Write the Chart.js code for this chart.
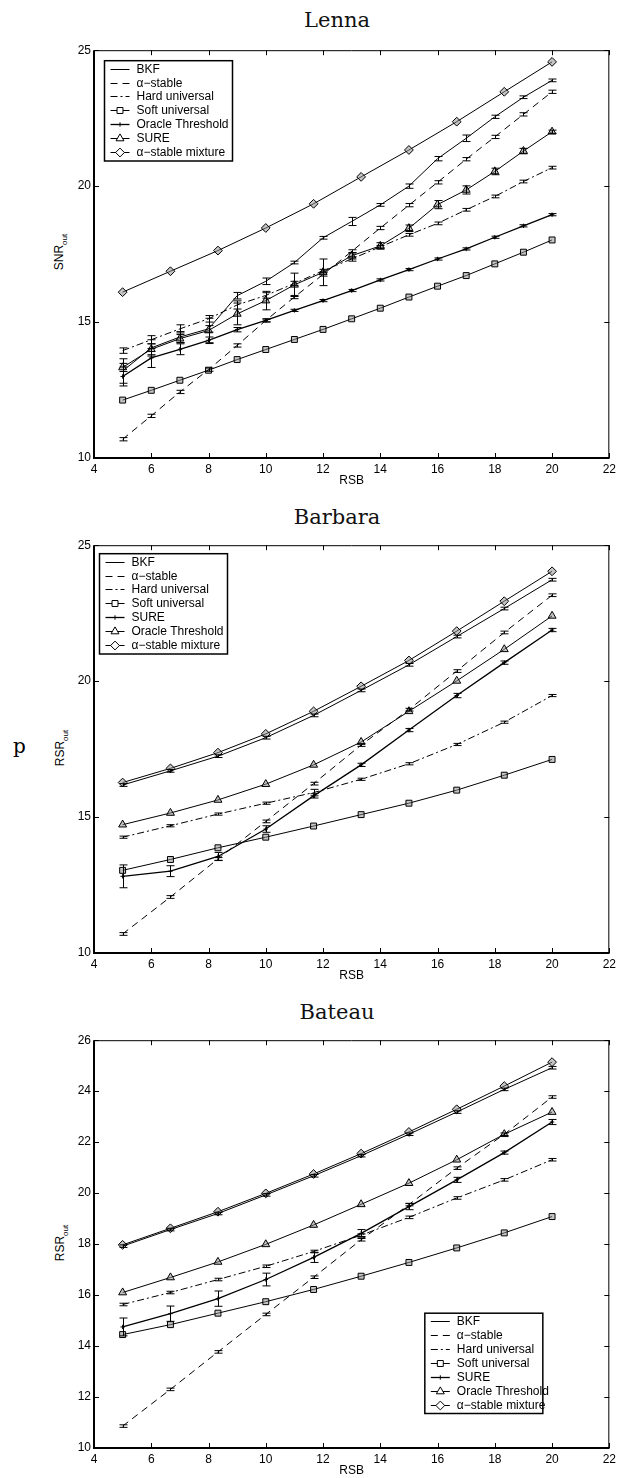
<!DOCTYPE html>
<html>
<head>
<meta charset="utf-8">
<script src="https://cdn.jsdelivr.net/npm/chart.js@4.4.0/dist/chart.umd.min.js"></script>
<style>
  html, body { margin: 0; padding: 0; background: #fff; }
  body { width: 620px; height: 1478px; position: relative; overflow: hidden; font-family: "Liberation Sans", Arial, sans-serif; color: #000; }
  .panel { position: absolute; left: 0; width: 620px; height: 450px; }
  .title { position: absolute; left: 337px; transform: translateX(-50%); font-family: "DejaVu Serif", serif; font-size: 21px; line-height: 21px; color: #111; white-space: nowrap; }
  .ylab { position: absolute; font-size: 12px; line-height: 14px; transform: translate(-50%, -50%) rotate(-90deg); white-space: nowrap; }
  .ylab sub { font-size: 8px; }
  .stray { position: absolute; left: 13px; top: 734px; font-family: "DejaVu Serif", serif; font-size: 20px; }
</style>
</head>
<body>
<div class="title" style="top:10px">Lenna</div>
<div class="title" style="top:507px">Barbara</div>
<div class="title" style="top:1002px">Bateau</div>
<div class="ylab" style="left:62px; top:252px">SNR<sub>out</sub></div>
<div class="ylab" style="left:63px; top:748px">RSR<sub>out</sub></div>
<div class="ylab" style="left:63px; top:1243px">RSR<sub>out</sub></div>
<div class="stray">p</div>

<div class="panel" style="top:40px"><canvas id="lenna" width="620" height="450"></canvas></div>
<div class="panel" style="top:535px"><canvas id="barbara" width="620" height="450"></canvas></div>
<div class="panel" style="top:1030px"><canvas id="bateau" width="620" height="450"></canvas></div>

<script>
// input SNR (RSB) values
const rsbInt = [5, 6, 7, 8, 9, 10, 11, 12, 13, 14, 15, 16, 17, 18, 19, 20];
const rsbThird = [5, 6.67, 8.33, 10, 11.67, 13.33, 15, 16.67, 18.33, 20];

const namesLenna = ['BKF', 'α−stable', 'Hard universal', 'Soft universal', 'Oracle Threshold', 'SURE', 'α−stable mixture'];
const namesOther = ['BKF', 'α−stable', 'Hard universal', 'Soft universal', 'SURE', 'Oracle Threshold', 'α−stable mixture'];

// Lenna
const lennaBkf = [13.2, 14.05, 14.45, 14.75, 15.97, 16.5, 17.19, 18.1, 18.7, 19.31, 20.0, 21.01, 21.76, 22.55, 23.27, 23.89];
const lennaBkfErr = [0.45, 0.3, 0.2, 0.12, 0.12, 0.12, 0.05, 0.05, 0.15, 0.05, 0.08, 0.08, 0.12, 0.06, 0.05, 0.05];
const lennaStable = [10.69, 11.55, 12.43, 13.25, 14.14, 15.06, 15.92, 16.75, 17.6, 18.46, 19.3, 20.14, 20.99, 21.81, 22.64, 23.47];
const lennaStableErr = [0.06, 0.06, 0.06, 0.06, 0.06, 0.06, 0.06, 0.06, 0.06, 0.06, 0.06, 0.06, 0.06, 0.06, 0.06, 0.06];
const lennaHard = [13.95, 14.35, 14.75, 15.12, 15.63, 15.98, 16.42, 16.89, 17.32, 17.77, 18.21, 18.63, 19.13, 19.62, 20.17, 20.68];
const lennaHardErr = [0.1, 0.15, 0.15, 0.12, 0.15, 0.1, 0.08, 0.05, 0.08, 0.05, 0.05, 0.05, 0.05, 0.05, 0.05, 0.05];
const lennaSoft = [12.13, 12.49, 12.86, 13.23, 13.62, 13.99, 14.36, 14.73, 15.12, 15.51, 15.92, 16.32, 16.71, 17.14, 17.57, 18.02];
const lennaOracle = [13.0, 13.68, 14.0, 14.33, 14.72, 15.06, 15.43, 15.79, 16.16, 16.55, 16.93, 17.32, 17.69, 18.12, 18.54, 18.95];
const lennaOracleErr = [0.35, 0.35, 0.2, 0.12, 0.08, 0.05, 0.04, 0.04, 0.04, 0.04, 0.04, 0.04, 0.04, 0.04, 0.04, 0.04];
const lennaSure = [13.33, 14.0, 14.39, 14.69, 15.3, 15.79, 16.37, 16.83, 17.44, 17.8, 18.45, 19.32, 19.86, 20.54, 21.29, 22.0];
const lennaSureErr = [0.15, 0.2, 0.15, 0.45, 0.4, 0.34, 0.43, 0.49, 0.12, 0.12, 0.12, 0.15, 0.15, 0.12, 0.1, 0.06];
const lennaMixture = [16.1, 16.87, 17.63, 18.46, 19.35, 20.34, 21.33, 22.37, 23.47, 24.57];

// Barbara
const barbaraBkf = [16.18, 16.7, 17.24, 17.92, 18.74, 19.66, 20.6, 21.64, 22.67, 23.73];
const barbaraBkfErr = [0.05, 0.05, 0.05, 0.05, 0.05, 0.05, 0.05, 0.05, 0.05, 0.05];
const barbaraStable = [10.7, 12.06, 13.46, 14.84, 16.23, 17.65, 18.95, 20.37, 21.79, 23.16];
const barbaraStableErr = [0.05, 0.05, 0.05, 0.05, 0.05, 0.05, 0.05, 0.05, 0.05, 0.05];
const barbaraHard = [14.26, 14.68, 15.11, 15.51, 15.9, 16.39, 16.96, 17.67, 18.49, 19.47];
const barbaraHardErr = [0.04, 0.04, 0.04, 0.04, 0.12, 0.04, 0.04, 0.04, 0.04, 0.04];
const barbaraSoft = [13.04, 13.44, 13.87, 14.26, 14.67, 15.09, 15.51, 15.99, 16.54, 17.12];
const barbaraSure = [12.82, 13.01, 13.55, 14.56, 15.78, 16.92, 18.2, 19.47, 20.68, 21.88];
const barbaraSureErr = [0.42, 0.2, 0.15, 0.12, 0.08, 0.06, 0.06, 0.08, 0.06, 0.06];
const barbaraOracle = [14.72, 15.15, 15.63, 16.21, 16.92, 17.76, 18.89, 20.01, 21.17, 22.4];
const barbaraMixture = [16.27, 16.79, 17.37, 18.06, 18.89, 19.81, 20.76, 21.84, 22.94, 24.04];

// Bateau
const bateauBkf = [17.92, 18.57, 19.2, 19.93, 20.68, 21.47, 22.31, 23.18, 24.07, 24.92];
const bateauBkfErr = [0.05, 0.05, 0.05, 0.05, 0.05, 0.05, 0.05, 0.05, 0.05, 0.05];
const bateauStable = [10.86, 12.3, 13.77, 15.24, 16.7, 18.17, 19.55, 20.98, 22.31, 23.77];
const bateauStableErr = [0.05, 0.05, 0.05, 0.05, 0.05, 0.05, 0.05, 0.05, 0.05, 0.05];
const bateauHard = [15.63, 16.1, 16.61, 17.13, 17.71, 18.35, 19.05, 19.81, 20.52, 21.31];
const bateauHardErr = [0.05, 0.05, 0.05, 0.05, 0.05, 0.05, 0.05, 0.05, 0.05, 0.05];
const bateauSoft = [14.45, 14.84, 15.29, 15.74, 16.22, 16.74, 17.28, 17.85, 18.44, 19.08];
const bateauSure = [14.75, 15.27, 15.86, 16.61, 17.48, 18.42, 19.47, 20.52, 21.59, 22.79];
const bateauSureErr = [0.35, 0.3, 0.3, 0.25, 0.2, 0.15, 0.12, 0.1, 0.06, 0.1];
const bateauOracle = [16.1, 16.69, 17.3, 17.99, 18.75, 19.56, 20.39, 21.31, 22.31, 23.18];
const bateauMixture = [17.97, 18.62, 19.27, 19.99, 20.75, 21.55, 22.4, 23.29, 24.2, 25.14];

// line / marker style for each legend slot
const STYLES = [
    { dash: [] },
    { dash: [7, 5] },
    { dash: [7, 3, 2, 3] },
    { dash: [], point: 'rect', radius: 4.2 },
    { dash: [], point: 'cross', radius: 2.2, width: 1.3 },
    { dash: [], point: 'triangle', radius: 4.6 },
    { dash: [], point: 'rectRot', radius: 4.4 }
];

const FONT = '"Liberation Sans", Arial, sans-serif';

function makeDatasets(names, xsList, ysList, errList) {
    return ysList.map((vals, k) => {
        const st = STYLES[k];
        return {
            label: names[k],
            data: vals.map((v, i) => ({ x: xsList[k][i], y: v })),
            errors: errList[k],
            borderColor: '#000',
            borderWidth: st.width || 1,
            borderDash: st.dash,
            pointStyle: st.point || 'circle',
            pointRadius: st.point ? st.radius : 0,
            pointHoverRadius: st.point ? st.radius : 0,
            pointBorderColor: '#000',
            pointBackgroundColor: 'rgba(140,140,140,0.5)',
            pointBorderWidth: 1,
            tension: 0,
            fill: false
        };
    });
}

const errorBarPlugin = {
    id: 'errorBars',
    afterDatasetsDraw(chart) {
        const ctx = chart.ctx;
        const xs = chart.scales.x, ys = chart.scales.y;
        ctx.save();
        ctx.strokeStyle = '#000';
        ctx.lineWidth = 1;
        chart.data.datasets.forEach(ds => {
            if (!ds.errors) return;
            ds.data.forEach((p, i) => {
                const e = ds.errors[i];
                if (!e) return;
                const px = Math.round(xs.getPixelForValue(p.x)) + 0.5;
                const top = ys.getPixelForValue(p.y + e);
                const bot = ys.getPixelForValue(p.y - e);
                ctx.beginPath();
                ctx.moveTo(px, top); ctx.lineTo(px, bot);
                ctx.moveTo(px - 4, top); ctx.lineTo(px + 4, top);
                ctx.moveTo(px - 4, bot); ctx.lineTo(px + 4, bot);
                ctx.stroke();
            });
        });
        ctx.restore();
    }
};

// box around the plot with inward tick marks on all four sides
const framePlugin = {
    id: 'frame',
    afterDraw(chart) {
        const { ctx, chartArea: a, scales } = chart;
        ctx.save();
        ctx.strokeStyle = '#000';
        ctx.lineWidth = 1;
        ctx.beginPath();
        scales.x.ticks.forEach(t => {
            const px = Math.round(scales.x.getPixelForValue(t.value)) + 0.5;
            ctx.moveTo(px, a.bottom); ctx.lineTo(px, a.bottom - 5);
            ctx.moveTo(px, a.top); ctx.lineTo(px, a.top + 5);
        });
        scales.y.ticks.forEach(t => {
            const py = Math.round(scales.y.getPixelForValue(t.value)) + 0.5;
            ctx.moveTo(a.left, py); ctx.lineTo(a.left + 5, py);
            ctx.moveTo(a.right, py); ctx.lineTo(a.right - 5, py);
        });
        ctx.stroke();
        ctx.beginPath();
        ctx.moveTo(a.left, a.top + 0.5); ctx.lineTo(a.right, a.top + 0.5);
        ctx.moveTo(a.right - 0.5, a.top); ctx.lineTo(a.right - 0.5, a.bottom);
        ctx.stroke();
        ctx.lineWidth = 2;
        ctx.beginPath();
        ctx.moveTo(a.left, a.top); ctx.lineTo(a.left, a.bottom);
        ctx.lineTo(a.right, a.bottom);
        ctx.stroke();
        ctx.restore();
    }
};

function drawMarker(ctx, style, x, y, r) {
    ctx.beginPath();
    if (style === 'rect') {
        const s = r * Math.SQRT1_2;
        ctx.rect(x - s, y - s, 2 * s, 2 * s);
    } else if (style === 'triangle') {
        ctx.moveTo(x, y - r);
        ctx.lineTo(x + r * 0.866, y + r * 0.5);
        ctx.lineTo(x - r * 0.866, y + r * 0.5);
        ctx.closePath();
    } else if (style === 'rectRot') {
        ctx.moveTo(x, y - r); ctx.lineTo(x + r, y);
        ctx.lineTo(x, y + r); ctx.lineTo(x - r, y);
        ctx.closePath();
    } else if (style === 'cross') {
        ctx.moveTo(x - r, y); ctx.lineTo(x + r, y);
        ctx.moveTo(x, y - r); ctx.lineTo(x, y + r);
        ctx.stroke();
        return;
    }
    ctx.fill();
    ctx.stroke();
}

const legendPlugin = {
    id: 'boxLegend',
    afterDraw(chart, args, opts) {
        const { ctx, chartArea: a } = chart;
        const rows = chart.data.datasets;
        const h = rows.length * opts.rowHeight + 3;
        const left = opts.align === 'right' ? a.right - opts.offsetX - opts.width : a.left + opts.offsetX;
        const top = opts.align === 'right' ? a.bottom - opts.offsetY - h : a.top + opts.offsetY;
        ctx.save();
        ctx.fillStyle = '#fff';
        ctx.fillRect(left, top, opts.width, h);
        ctx.strokeStyle = '#000';
        ctx.lineWidth = 1.5;
        ctx.strokeRect(left + 0.5, top + 0.5, opts.width, h);
        ctx.font = '12px ' + FONT;
        ctx.textBaseline = 'middle';
        rows.forEach((ds, i) => {
            const y = Math.round(top + 1.5 + opts.rowHeight * (i + 0.5)) + 0.5;
            const x0 = left + 6.5, x1 = left + 25.5;
            ctx.strokeStyle = '#000';
            ctx.lineWidth = ds.borderWidth;
            ctx.setLineDash(ds.borderDash || []);
            ctx.beginPath(); ctx.moveTo(x0, y); ctx.lineTo(x1, y); ctx.stroke();
            ctx.setLineDash([]);
            ctx.lineWidth = 1;
            if (ds.pointRadius > 0) {
                ctx.fillStyle = '#fff';
                drawMarker(ctx, ds.pointStyle, (x0 + x1) / 2, y, ds.pointRadius);
            }
            ctx.fillStyle = '#000';
            ctx.fillText(ds.label, left + 32.5, y + 0.5);
        });
        ctx.restore();
    }
};

function buildChart(id, datasets, yMin, yMax, yStep, legendOpts) {
    const ctx = document.getElementById(id).getContext('2d');
    return new Chart(ctx, {
        type: 'line',
        data: { datasets },
        plugins: [errorBarPlugin, framePlugin, legendPlugin],
        options: {
            responsive: false,
            animation: false,
            layout: { padding: { top: 9, right: 7, left: 0, bottom: 0 } },
            plugins: {
                legend: { display: false },
                tooltip: { enabled: false },
                boxLegend: legendOpts
            },
            scales: {
                x: {
                    type: 'linear', min: 4, max: 22,
                    ticks: { stepSize: 2, padding: 4, color: '#000', font: { family: FONT, size: 12 } },
                    grid: { display: false, drawTicks: false },
                    border: { display: false },
                    title: { display: true, text: 'RSB', color: '#000', font: { family: FONT, size: 12 }, padding: { top: 0, bottom: 2 } },
                    afterFit: s => { s.height = 32; }
                },
                y: {
                    type: 'linear', min: yMin, max: yMax,
                    ticks: { stepSize: yStep, padding: 3, color: '#000', font: { family: FONT, size: 12 } },
                    grid: { display: false, drawTicks: false },
                    border: { display: false },
                    afterFit: s => { s.width = 94; }
                }
            }
        }
    });
}

function init() {
    const lennaX = [rsbInt, rsbInt, rsbInt, rsbInt, rsbInt, rsbInt, rsbThird];
    const otherX = [rsbThird, rsbThird, rsbThird, rsbThird, rsbThird, rsbThird, rsbThird];

    buildChart('lenna', makeDatasets(namesLenna, lennaX,
        [lennaBkf, lennaStable, lennaHard, lennaSoft, lennaOracle, lennaSure, lennaMixture],
        [lennaBkfErr, lennaStableErr, lennaHardErr, null, lennaOracleErr, lennaSureErr, null]),
        10, 25, 5, { align: 'left', offsetX: 10, offsetY: 10, width: 128, rowHeight: 13.9 });

    buildChart('barbara', makeDatasets(namesOther, otherX,
        [barbaraBkf, barbaraStable, barbaraHard, barbaraSoft, barbaraSure, barbaraOracle, barbaraMixture],
        [barbaraBkfErr, barbaraStableErr, barbaraHardErr, null, barbaraSureErr, null, null]),
        10, 25, 5, { align: 'left', offsetX: 5, offsetY: 8, width: 128, rowHeight: 13.9 });

    buildChart('bateau', makeDatasets(namesOther, otherX,
        [bateauBkf, bateauStable, bateauHard, bateauSoft, bateauSure, bateauOracle, bateauMixture],
        [bateauBkfErr, bateauStableErr, bateauHardErr, null, bateauSureErr, null, null]),
        10, 26, 2, { align: 'right', offsetX: 67, offsetY: 35, width: 118, rowHeight: 13.9 });
}

init();
</script>
</body>
</html>
